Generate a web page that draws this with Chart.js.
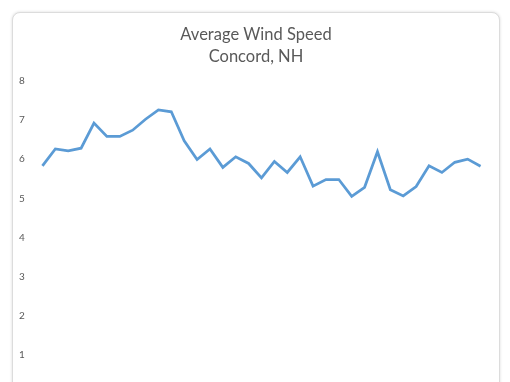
<!DOCTYPE html>
<html>
<head>
<meta charset="utf-8">
<script src="https://cdn.jsdelivr.net/npm/chart.js@4"></script>
<style>
  html, body { margin: 0; padding: 0; background: #fff; overflow: hidden; }
  body { width: 510px; height: 382px; position: relative; }
  .card {
    position: absolute; left: 12px; top: 12px; width: 488px; height: 395px;
    border: 1px solid #dcdcdc; border-radius: 8px; background: #fff;
    box-shadow: 0 0 3px rgba(0,0,0,0.15); box-sizing: border-box;
  }
  .plot { position: absolute; left: 0; top: 0; width: 510px; height: 412px; }
</style>
</head>
<body>
<div class="card"></div>
<div class="plot"><canvas id="wind-chart"></canvas></div>
<script>
// one reading per period, left to right (x labels sit below the visible area)
var periods = [];
for (var i = 1; i <= 35; i++) periods.push(String(i));
var windSpeed = [5.83, 6.26, 6.21, 6.28, 6.92, 6.58, 6.58, 6.74, 7.02, 7.26,
                 7.21, 6.47, 5.99, 6.26, 5.79, 6.06, 5.89, 5.52, 5.94, 5.66,
                 6.06, 5.31, 5.48, 5.48, 5.05, 5.28, 6.19, 5.22, 5.06, 5.30,
                 5.83, 5.66, 5.92, 6.00, 5.82];
var titleLines = ['Average Wind Speed', 'Concord, NH'];

document.addEventListener("DOMContentLoaded", function() {
    var ctx = document.getElementById("wind-chart").getContext('2d');
    new Chart(ctx, {
        type: 'line',
        data: {
            labels: periods,
            datasets: [{
                label: 'Average Wind Speed',
                data: windSpeed,
                borderColor: '#5B9BD5',
                borderWidth: 2.75,
                pointRadius: 0,
                tension: 0,
                fill: false
            }]
        },
        options: {
            responsive: true,
            maintainAspectRatio: false,
            animation: false,
            layout: { padding: { left: 25, right: 23, top: 0, bottom: 18 } },
            plugins: {
                legend: { display: false },
                tooltip: { enabled: false },
                title: {
                    display: true,
                    text: titleLines,
                    color: '#595959',
                    font: { family: 'Lato', size: 16.5, weight: 'normal', lineHeight: 1.36 },
                    padding: { top: 23, bottom: 13 }
                }
            },
            scales: {
                x: {
                    offset: true,
                    grid: { display: false, drawTicks: false },
                    border: { display: false },
                    ticks: { display: false }
                },
                y: {
                    min: 0,
                    max: 8,
                    // narrow axis so the title stays centred on the card;
                    // mirrored labels pulled back to the left of the plot
                    afterFit: function(scale) { scale.width = 11; },
                    ticks: {
                        stepSize: 1,
                        mirror: true,
                        padding: -17,
                        color: '#595959',
                        font: { family: 'Lato', size: 10 }
                    },
                    grid: { display: false, drawTicks: false },
                    border: { display: false }
                }
            }
        }
    });
});
</script>
</body>
</html>
